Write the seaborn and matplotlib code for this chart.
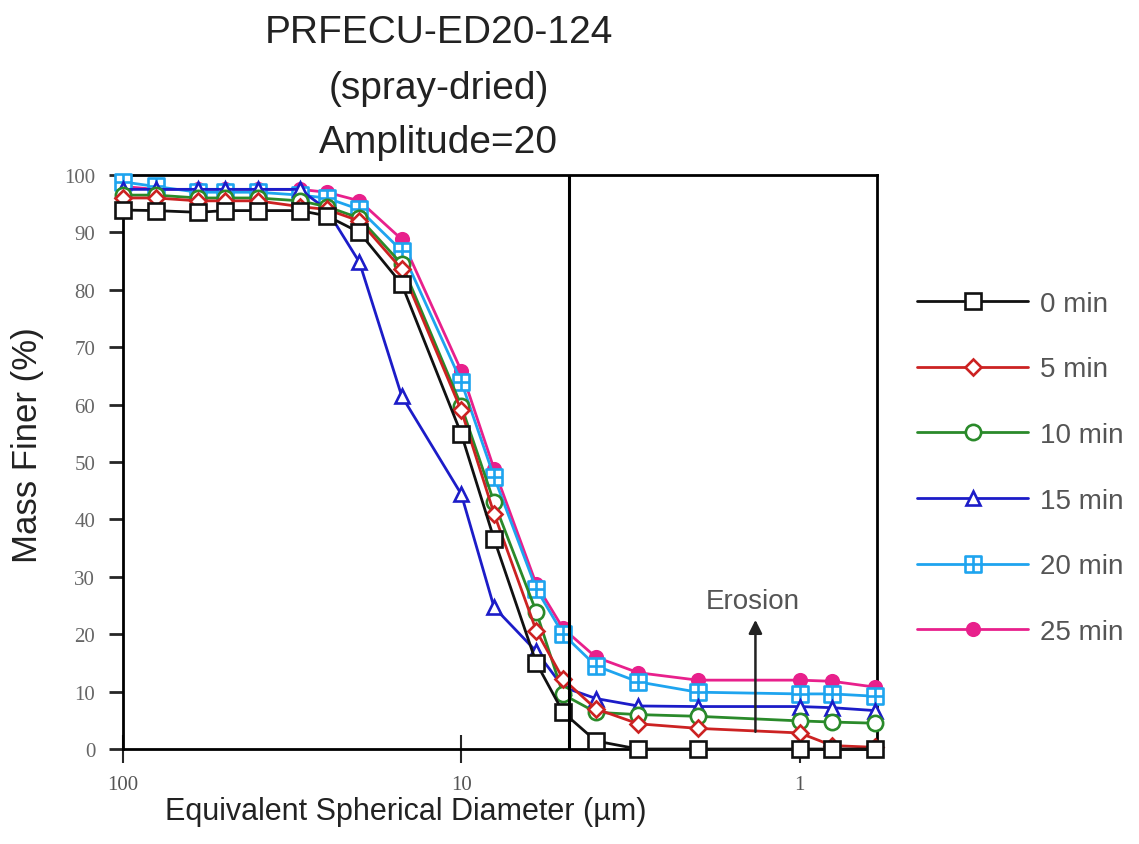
import numpy as np
import pandas as pd
import matplotlib
matplotlib.use("Agg")
import matplotlib.pyplot as plt
from matplotlib.path import Path
import seaborn as sns

# ---------------- data ----------------
diameter = [100, 80, 60, 50, 40, 30, 25, 20, 15, 10, 8, 6, 5, 4, 3, 2, 1, 0.8, 0.6]
series_labels = ["0 min", "5 min", "10 min", "15 min", "20 min", "25 min"]
min0 = [93.9, 93.8, 93.5, 93.8, 93.8, 93.8, 92.9, 90.0, 81.0, 54.9, 36.6, 15.0, 6.4, 1.4, 0.0, 0.0, 0.0, 0.0, 0.0]
min5 = [96.0, 96.0, 95.5, 95.5, 95.5, 94.5, 94.0, 92.0, 83.6, 59.0, 41.0, 20.6, 12.2, 7.0, 4.4, 3.6, 2.8, 0.6, 0.3]
min10 = [96.5, 96.5, 96.0, 96.0, 96.0, 95.5, 94.5, 92.5, 84.5, 59.8, 43.0, 23.9, 9.5, 6.4, 6.0, 5.7, 4.9, 4.7, 4.5]
min15 = [97.5, 97.5, 97.5, 97.5, 97.5, 97.5, 94.0, 84.8, 61.5, 44.4, 24.7, 17.0, 10.8, 8.8, 7.5, 7.4, 7.4, 7.2, 6.7]
min20 = [98.8, 98.0, 97.0, 97.0, 97.0, 96.5, 96.0, 94.0, 86.8, 64.0, 47.4, 27.9, 20.0, 14.5, 11.7, 9.9, 9.6, 9.6, 9.2]
min25 = [98.0, 97.5, 97.5, 97.5, 97.5, 97.5, 97.0, 95.5, 88.8, 65.9, 48.8, 28.7, 21.0, 16.0, 13.3, 12.0, 12.0, 11.8, 10.8]
series_values = [min0, min5, min10, min15, min20, min25]

boundary_diameter = 4.8
erosion_x = 1.35
erosion_y = [3.0, 22.5]
x_ticks = [100, 10, 1]
x_tick_labels = ["100", "10", "1"]
y_ticks = list(range(0, 101, 10))
title_lines = ["PRFECU-ED20-124", "(spray-dried)", "Amplitude=20"]

# ---------------- style ----------------
sns.set_theme(style="white")
plt.rcParams["font.family"] = ["Liberation Sans", "DejaVu Sans"]

colors = ["#111111", "#cc2222", "#2a8a2a", "#1c1cc8", "#1ea4ef", "#e8208c"]

sq_cross = Path(
    [(-1, -1), (1, -1), (1, 1), (-1, 1), (-1, -1),
     (-1, 0), (1, 0), (0, -1), (0, 1)],
    [Path.MOVETO, Path.LINETO, Path.LINETO, Path.LINETO, Path.CLOSEPOLY,
     Path.MOVETO, Path.LINETO, Path.MOVETO, Path.LINETO])
markers = ["s", "D", "o", "^", sq_cross, "o"]
msizes = [12, 8, 11, 10, 11, 9]
faces = ["white", "white", "white", "white", "white", colors[5]]

rows = []
for lab, vals in zip(series_labels, series_values):
    for d, v in zip(diameter, vals):
        rows.append({"diameter": d, "finer": v, "series": lab})
df = pd.DataFrame(rows)

fig = plt.figure(figsize=(11.39, 8.45), dpi=100)
ax = fig.add_axes([0.108, 0.1124, 0.662, 0.6793])

for i, lab in enumerate(series_labels):
    sub = df[df["series"] == lab]
    sns.lineplot(data=sub, x="diameter", y="finer", ax=ax, color=colors[i],
                 marker=markers[i], markersize=msizes[i],
                 markerfacecolor=faces[i], markeredgecolor=colors[i],
                 markeredgewidth=1.9, linewidth=2.0, label=lab,
                 clip_on=False, zorder=3 + (5 - i), sort=False)

ax.set_xscale("log")
ax.set_xlim(100, 0.59)
ax.set_ylim(0, 100)
ax.axvline(boundary_diameter, color="black", linewidth=2.2, zorder=10)

ax.annotate("", xy=(erosion_x, erosion_y[1]), xytext=(erosion_x, erosion_y[0]),
            arrowprops=dict(arrowstyle="-|>", color="#222222", lw=1.8,
                            mutation_scale=20, shrinkA=0, shrinkB=0), zorder=12)
ax.text(erosion_x * 1.02, erosion_y[1] + 1.0, "Erosion", ha="center", va="bottom",
        fontsize=20, color="#555555")

ax.set_xticks(x_ticks)
ax.set_xticklabels(x_tick_labels)
ax.xaxis.set_minor_locator(matplotlib.ticker.NullLocator())
ax.set_yticks(y_ticks)
ax.tick_params(axis="x", which="major", direction="inout", length=20, width=1.5,
               bottom=True, labelsize=15, labelcolor="#555555", pad=9)
ax.tick_params(axis="y", which="major", direction="out", length=10, width=2,
               left=True, labelsize=15, labelcolor="#666666", pad=10)
for lab in ax.get_xticklabels() + ax.get_yticklabels():
    lab.set_fontfamily(["Liberation Serif", "DejaVu Serif"])

for sp in ax.spines.values():
    sp.set_visible(True)
    sp.set_color("black")
    sp.set_linewidth(2)

ax.set_xlabel("Equivalent Spherical Diameter (µm)", fontsize=22, color="#222222")
ax.xaxis.set_label_coords(0.375, -0.082)
ax.set_ylabel("Mass Finer (%)", fontsize=25, color="#222222")
ax.yaxis.set_label_coords(-0.105, 0.531)

for txt, ypix in zip(title_lines, [43, 99, 153]):
    fig.text(0.385, 1 - ypix / 845, txt, ha="center", va="baseline",
             fontsize=28, color="#222222")

leg = ax.legend(loc="upper left", bbox_to_anchor=(0.8054, 0.655), bbox_transform=fig.transFigure,
                frameon=False, fontsize=20, handlelength=4.0, labelspacing=1.43,
                handletextpad=0.4, borderaxespad=0, borderpad=0)
for t in leg.get_texts():
    t.set_color("#555555")

fig.savefig("out.png", dpi=100)
